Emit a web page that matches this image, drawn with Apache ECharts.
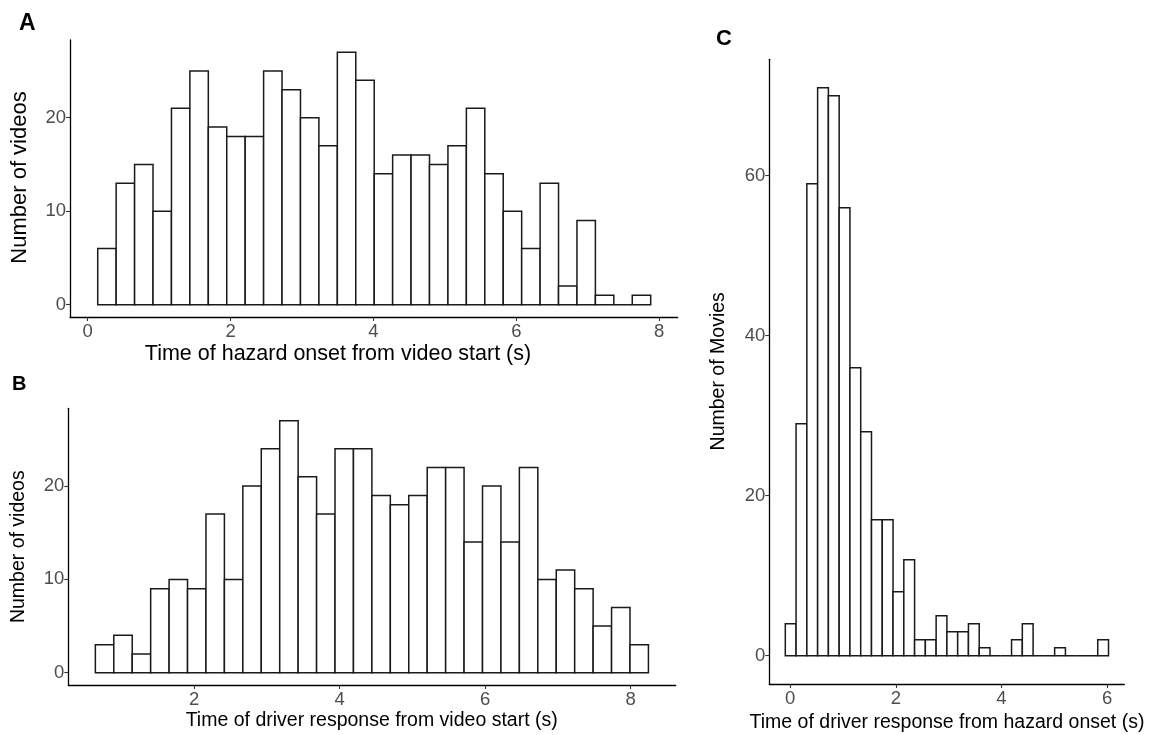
<!DOCTYPE html>
<html>
<head>
<meta charset="utf-8">
<script src="https://cdn.jsdelivr.net/npm/echarts@6/dist/echarts.min.js"></script>
<style>
html,body{margin:0;padding:0;background:#fff;}
#chart{width:1150px;height:735px;}
</style>
</head>
<body>
<div id="chart"></div>
<script>
// ---- Data ----
// Panel A: time of hazard onset from video start (s)
const countsA = [6,13,15,10,21,25,19,18,18,25,23,20,17,27,24,14,16,16,15,17,21,14,10,6,13,2,9,1,0,1];
const binStartA = 0.14;
const binWidthA = 0.258;
// Panel B: time of driver response from video start (s)
const countsB = [3,4,2,9,10,9,17,10,20,24,27,21,17,24,24,19,18,19,22,22,14,20,14,22,10,11,9,5,7,3];
const binStartB = 0.64;
const binWidthB = 0.2535;
// Panel C: time of driver response from hazard onset (s)
const countsC = [4,29,59,71,70,56,36,28,17,17,8,12,2,2,5,3,3,4,1,0,0,2,4,0,0,1,0,0,0,2];
const binStartC = -0.094;
const binWidthC = 0.204;

const xTicksA = [0,2,4,6,8];
const yTicksA = [0,10,20];
const xTicksB = [2,4,6,8];
const yTicksB = [0,10,20];
const xTicksC = [0,2,4,6];
const yTicksC = [0,20,40,60];

const panelLabels = ['A','B','C'];
const xTitles = ['Time of hazard onset from video start (s)','Time of driver response from video start (s)','Time of driver response from hazard onset (s)'];
const yTitles = ['Number of videos','Number of videos','Number of Movies'];

// ---- Build ----
const FONT = '"Liberation Sans", Arial, sans-serif';
function binData(counts, start, width){
  return counts.map((c,i)=>[start + i*width, start + (i+1)*width, c]);
}
function histSeries(idx, counts, start, width){
  return {
    type:'custom', xAxisIndex:idx, yAxisIndex:idx,
    data: binData(counts,start,width),
    encode:{x:[0,1], y:2},
    renderItem:function(params, api){
      const p0 = api.coord([api.value(0), 0]);
      const p1 = api.coord([api.value(1), api.value(2)]);
      return {
        type:'rect',
        shape:{x:p0[0], y:p1[1], width:p1[0]-p0[0], height:p0[1]-p1[1]},
        style:{fill:'#fff', stroke:'#1a1a1a', lineWidth:1.5}
      };
    }
  };
}
function xAxisCfg(idx, min, max, ticks){
  return {
    type:'value', gridIndex:idx, min:min, max:max,
    splitLine:{show:false},
    axisLine:{show:true, onZero:false, lineStyle:{color:'#000', width:1.3}},
    axisTick:{show:true, length:4, customValues:ticks, lineStyle:{color:'#333', width:1.1}},
    axisLabel:{customValues:ticks, color:'#4d4d4d', fontSize:18.5, fontFamily:FONT, margin:5}
  };
}
function yAxisCfg(idx, min, max, ticks){
  return {
    type:'value', gridIndex:idx, min:min, max:max,
    splitLine:{show:false},
    axisLine:{show:true, onZero:false, lineStyle:{color:'#000', width:1.3}},
    axisTick:{show:true, length:4, customValues:ticks, lineStyle:{color:'#333', width:1.1}},
    axisLabel:{customValues:ticks, color:'#4d4d4d', fontSize:18.5, fontFamily:FONT, margin:4}
  };
}

const chart = echarts.init(document.getElementById('chart'), null, {renderer:'canvas'});
chart.setOption({
  backgroundColor:'#fff',
  animation:false,
  grid:[
    {left:70, top:40, width:607.7, height:277},
    {left:68.3, top:408.3, width:607.4, height:276.7},
    {left:769.3, top:59.3, width:355, height:624.7}
  ],
  xAxis:[
    xAxisCfg(0,-0.248,8.258,xTicksA),
    xAxisCfg(1,0.268,8.62,xTicksB),
    xAxisCfg(2,-0.397,6.325,xTicksC)
  ],
  yAxis:[
    yAxisCfg(0,-1.32,28.31,yTicksA),
    yAxisCfg(1,-1.32,28.34,yTicksB),
    yAxisCfg(2,-3.54,74.55,yTicksC)
  ],
  series:[
    histSeries(0,countsA,binStartA,binWidthA),
    histSeries(1,countsB,binStartB,binWidthB),
    histSeries(2,countsC,binStartC,binWidthC)
  ],
  graphic:[
    {type:'text', left:19, top:12, style:{text:panelLabels[0], font:'bold 23px '+FONT, fill:'#000'}},
    {type:'text', left:12, top:374, style:{text:panelLabels[1], font:'bold 20px '+FONT, fill:'#000'}},
    {type:'text', left:716, top:28, style:{text:panelLabels[2], font:'bold 22px '+FONT, fill:'#000'}},
    {type:'text', x:20, y:177.5, rotation:Math.PI/2, style:{text:yTitles[0], font:'22px '+FONT, fill:'#000', align:'center', verticalAlign:'middle'}},
    {type:'text', x:18.5, y:546.7, rotation:Math.PI/2, style:{text:yTitles[1], font:'19.5px '+FONT, fill:'#000', align:'center', verticalAlign:'middle'}},
    {type:'text', x:719, y:371.3, rotation:Math.PI/2, style:{text:yTitles[2], font:'19.5px '+FONT, fill:'#000', align:'center', verticalAlign:'middle'}},
    {type:'text', x:338, y:354, style:{text:xTitles[0], font:'21.5px '+FONT, fill:'#000', align:'center', verticalAlign:'middle'}},
    {type:'text', x:371.7, y:721, style:{text:xTitles[1], font:'19.5px '+FONT, fill:'#000', align:'center', verticalAlign:'middle'}},
    {type:'text', x:947, y:723, style:{text:xTitles[2], font:'19.5px '+FONT, fill:'#000', align:'center', verticalAlign:'middle'}}
  ]
});
</script>
</body>
</html>
